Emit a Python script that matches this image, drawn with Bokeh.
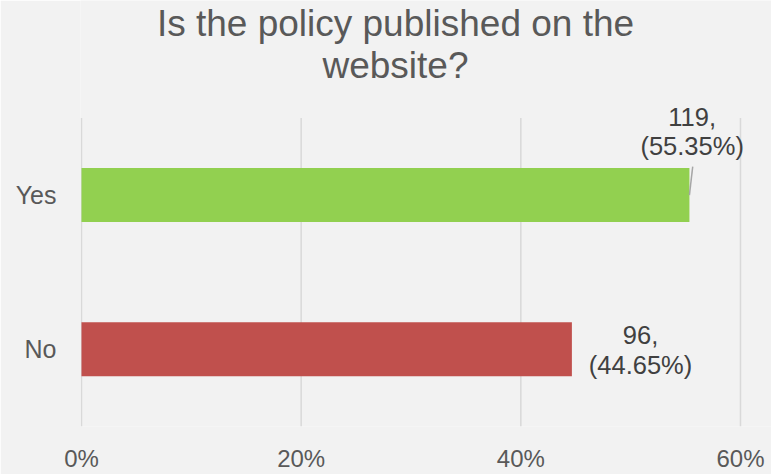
from bokeh.plotting import figure
from bokeh.models import ColumnDataSource, Range1d, FixedTicker, NumeralTickFormatter
from bokeh.core.properties import value
from bokeh.embed import file_html
from bokeh.resources import INLINE

# data
categories = ["No", "Yes"]
counts = [96, 119]
shares = [0.4465, 0.5535]
colors = ["#c0504d", "#92d050"]
tick_values = [0.0, 0.2, 0.4, 0.6]
title_lines = ["Is the policy published on the", "website?"]

FONT = "Liberation Sans"
TXT = "#595959"
BG = "#f2f2f2"

pos = list(range(len(categories)))
line1 = [f"{c}," for c in counts]
line2 = [f"({s*100:.2f}%)" for s in shares]

# label anchors: "No" right of bar end, "Yes" above bar end (with leader line)
lab_x = [shares[0] + 0.0625, shares[1] + 0.0025]
off1 = [-14, -78]
off2 = [16, -49]

src = ColumnDataSource(dict(y=pos, share=shares, color=colors,
                            l1=line1, l2=line2, lx=lab_x, o1=off1, o2=off2))

# frame: left 80 .. right 771, top 0 .. bottom 428 ; 1 category = 155 px
x_start = -0.0009
x_end = x_start + 691 / (659 / 0.6)
y_start = -0.5
y_end = y_start + 428 / 155

p = figure(width=771, height=474, x_range=Range1d(x_start, x_end), y_range=Range1d(y_start, y_end),
           output_backend="svg", toolbar_location=None,
           min_border_left=80, min_border_right=0, min_border_top=0, min_border_bottom=46)
p.background_fill_color = BG
p.border_fill_color = BG
p.outline_line_color = None

# vertical gridlines spanning the category area only
n = len(categories)
p.segment(x0=tick_values, x1=tick_values, y0=[-0.5] * len(tick_values), y1=[n - 0.5] * len(tick_values),
          line_color="#d9d9d9", line_width=1.5)

p.hbar(y="y", right="share", left=0, height=0.35, color="color", line_color=None, source=src)

p.text(x="lx", y="y", text="l1", y_offset="o1", source=src, text_align="center",
       text_baseline="middle", text_font=value(FONT), text_font_size="25.5px", text_color="#404040")
p.text(x="lx", y="y", text="l2", y_offset="o2", source=src, text_align="center",
       text_baseline="middle", text_font=value(FONT), text_font_size="25.5px", text_color="#404040")

# leader line for the Yes label
p.segment(x0=[shares[1]], y0=[pos[1]], x1=[shares[1] + 0.003], y1=[pos[1] + 0.185],
          line_color="#a6a6a6", line_width=1.5)

# title (two lines)
title_x = (395 - 80) / (659 / 0.6) + x_start
p.text(x=[title_x, title_x], y=[y_end, y_end], text=title_lines, y_offset=[23, 65],
       text_align="center", text_baseline="alphabetic", text_font=value(FONT),
       text_font_size="37px", text_color=TXT)

p.xaxis.ticker = FixedTicker(ticks=tick_values)
p.xaxis.formatter = NumeralTickFormatter(format="0%")
p.yaxis.ticker = FixedTicker(ticks=pos)
p.yaxis.major_label_overrides = {i: c for i, c in zip(pos, categories)}
for ax in (p.xaxis, p.yaxis):
    ax.axis_line_color = None
    ax.major_tick_line_color = None
    ax.minor_tick_line_color = None
    ax.major_label_text_font = FONT
    ax.major_label_text_color = TXT
p.xaxis.major_label_text_font_size = "24px"
p.yaxis.major_label_text_font_size = "25px"
p.xaxis.major_label_standoff = 12
p.yaxis.major_label_standoff = 18
p.xgrid.grid_line_color = None
p.ygrid.grid_line_color = None

open("out.html", "w").write(file_html(p, INLINE))
